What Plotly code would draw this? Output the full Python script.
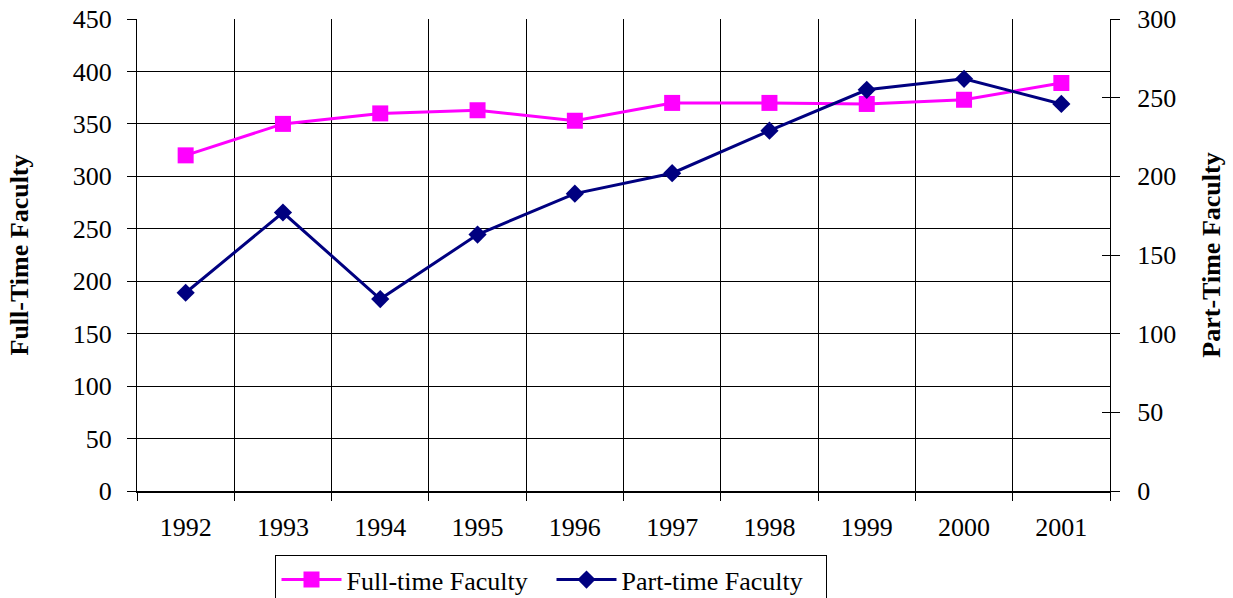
import plotly.graph_objects as go

years = ["1992", "1993", "1994", "1995", "1996", "1997", "1998", "1999", "2000", "2001"]
full_time = [320, 350, 360, 363, 353, 370, 370, 369, 373, 389]
part_time = [126, 177, 122, 163, 189, 202, 229, 255, 262, 246]
left_ticks = [0, 50, 100, 150, 200, 250, 300, 350, 400, 450]
right_ticks = [0, 50, 100, 150, 200, 250, 300]

FONT = "Liberation Serif, Times New Roman, serif"

fig = go.Figure()
fig.add_trace(go.Scatter(
    x=years, y=full_time, name="Full-time Faculty", mode="lines+markers",
    line=dict(color="#FF00FF", width=3),
    marker=dict(symbol="square", size=16, color="#FF00FF"),
    yaxis="y",
))
fig.add_trace(go.Scatter(
    x=years, y=part_time, name="Part-time Faculty", mode="lines+markers",
    line=dict(color="#000080", width=3),
    marker=dict(symbol="diamond", size=14, color="#000080"),
    yaxis="y2",
))
# invisible trace to carry the inner half of the crossing right-axis ticks
fig.add_trace(go.Scatter(
    x=years, y=part_time, mode="markers", marker=dict(opacity=0),
    showlegend=False, hoverinfo="skip", yaxis="y3",
))

fig.update_layout(
    width=1233, height=598,
    margin=dict(l=137, r=123, t=19, b=107, autoexpand=False),
    paper_bgcolor="white", plot_bgcolor="white",
    font=dict(family=FONT, size=26, color="black"),
    showlegend=True,
    legend=dict(
        orientation="h", x=0.426, xanchor="center", y=-0.136, yanchor="top",
        bordercolor="black", borderwidth=1, font=dict(family=FONT, size=26),
        tracegroupgap=0, itemwidth=60, entrywidth=200, entrywidthmode="pixels",
    ),
    xaxis=dict(
        type="category", categoryorder="array", categoryarray=years,
        tickson="boundaries", ticks="outside", ticklen=8, tickcolor="black",
        showgrid=True, gridcolor="black", gridwidth=1,
        showline=True, linecolor="black", linewidth=1.5,
        ticklabelstandoff=12, range=[-0.5, 9.5], ticklabeloverflow="allow",
    ),
    yaxis=dict(
        range=[0, 450], tickvals=left_ticks, ticks="outside", ticklen=9,
        tickcolor="black", showgrid=True, gridcolor="black", gridwidth=1,
        showline=True, linecolor="black", linewidth=1, zeroline=False,
        ticklabelstandoff=10, ticklabeloverflow="allow",
        title=dict(text="<b>Full-Time Faculty</b>", standoff=36,
                   font=dict(family=FONT, size=26)),
    ),
    yaxis2=dict(
        range=[0, 300], tickvals=right_ticks, overlaying="y", side="right",
        ticks="outside", ticklen=9, tickcolor="black", showgrid=False,
        showline=True, linecolor="black", linewidth=1, zeroline=False,
        ticklabelstandoff=12, ticklabeloverflow="allow",
        title=dict(text="<b>Part-Time Faculty</b>", standoff=26,
                   font=dict(family=FONT, size=26)),
    ),
    yaxis3=dict(
        range=[0, 300], tickvals=right_ticks, overlaying="y", side="right",
        ticks="inside", ticklen=8, tickcolor="black", showgrid=False,
        showline=False, zeroline=False, showticklabels=False,
    ),
)

fig.write_html(
    "out.html",
    config={"displayModeBar": False},
    post_script="document.body.style.margin='0';document.body.style.overflow='hidden';",
)
